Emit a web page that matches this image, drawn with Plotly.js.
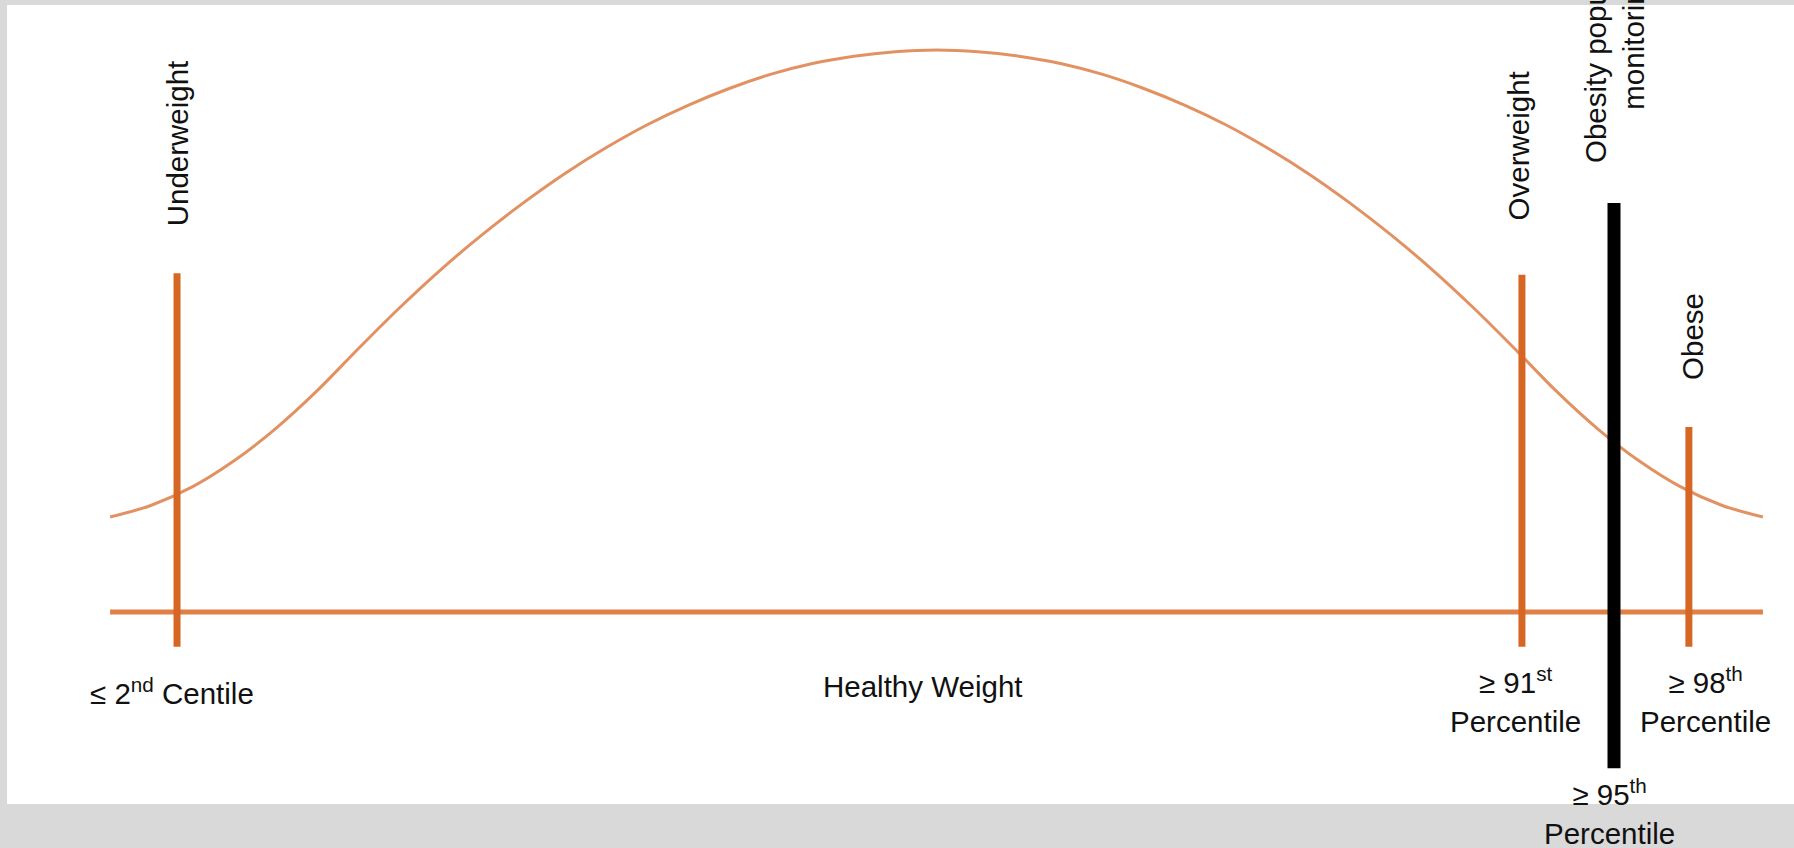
<!DOCTYPE html>
<html>
<head>
<meta charset="utf-8">
<script src="https://cdn.plot.ly/plotly-3.0.1.min.js"></script>
<style>
  html, body { margin: 0; padding: 0; background: #ffffff; }
  #chart { width: 1794px; height: 848px; }
</style>
</head>
<body>
<div id="chart"></div>
<script>
// Distribution curve (position along the scale, relative height)
const curveX = [0, 2.5, 5, 7.5, 10, 12.5, 15, 17.5, 20, 22.5, 25, 27.5, 30, 32.5, 35, 37.5, 40, 42.5, 45, 47.5,
                50, 52.5, 55, 57.5, 60, 62.5, 65, 67.5, 70, 72.5, 75, 77.5, 80, 82.5, 85, 87.5, 90, 92.5, 95, 97.5, 100];
const curveY = [16.9, 19.0, 22.3, 26.9, 32.6, 39.3, 46.8, 54.1, 60.9, 67.1, 72.8, 78.0, 82.6, 86.7, 90.2, 93.2, 95.7, 97.6, 98.9, 99.7,
                100, 99.7, 98.9, 97.6, 95.7, 93.2, 90.2, 86.7, 82.6, 78.0, 72.8, 67.1, 60.9, 54.1, 46.8, 39.3, 32.6, 26.9, 22.3, 19.0, 16.9];

// Baseline
const baseX = [0, 100];
const baseY = [0, 0];

// Cut-off markers
const markerNames  = ["Underweight", "Overweight", "Obese"];
const markerX      = [4.05, 85.42, 95.52];
const markerTop    = [60.3, 60.0, 32.9];
const markerBottom = [-6.2, -6.2, -6.2];

// Monitoring cut-off (black bar)
const monitorX = 90.99;
const monitorTop = 72.8;
const monitorBottom = -27.8;

// Rotated category labels
const catLabels = ["Underweight", "Overweight", "Obese", "Obesity population<br>monitoring"];
const catLabelX = [4.05, 85.2, 95.7, 90.99];
const catLabelY = [83.4, 82.9, 49.1, 101.6];

// Bottom threshold labels
const cutLabels = ["≤ 2<sup>nd</sup> Centile", "Healthy Weight", "≥ 91<sup>st</sup><br>Percentile",
                   "≥ 98<sup>th</sup><br>Percentile", "≥ 95<sup>th</sup><br>Percentile"];
const cutLabelX = [3.75, 49.2, 85.06, 96.55, 90.74];
const cutLabelY = [-14.2, -13.3, -15.6, -15.6, -35.5];

const ORANGE = "rgb(214,102,36)";
const CURVE = "rgb(226,146,98)";
const FONT = "'Liberation Sans', Arial, Helvetica, sans-serif";

const traces = [];
traces.push({
  x: baseX, y: baseY, mode: "lines", type: "scatter",
  line: { color: "rgb(224,128,70)", width: 5 }, hoverinfo: "skip", showlegend: false
});
traces.push({
  x: curveX, y: curveY, mode: "lines", type: "scatter",
  line: { color: CURVE, width: 3, shape: "spline", smoothing: 1.0 }, hoverinfo: "skip", showlegend: false
});
markerNames.forEach((n, i) => {
  traces.push({
    x: [markerX[i], markerX[i]], y: [markerBottom[i], markerTop[i]], mode: "lines", type: "scatter",
    name: n, line: { color: ORANGE, width: 7 }, hoverinfo: "skip", showlegend: false
  });
});
traces.push({
  x: [monitorX, monitorX], y: [monitorBottom, monitorTop], mode: "lines", type: "scatter",
  line: { color: "#000000", width: 13 }, hoverinfo: "skip", showlegend: false
});

const annotations = [];
catLabels.forEach((t, i) => {
  annotations.push({
    x: catLabelX[i], y: catLabelY[i], xref: "x", yref: "y", text: t, showarrow: false,
    textangle: -90, xanchor: "center", yanchor: "middle", align: "center",
    font: { family: FONT, size: 29.5, color: "#111111" }
  });
});
cutLabels.forEach((t, i) => {
  annotations.push({
    x: cutLabelX[i], y: cutLabelY[i], xref: "x", yref: "y", text: t, showarrow: false,
    xanchor: "center", yanchor: "middle", align: "center",
    font: { family: FONT, size: 29.5, color: "#111111" }
  });
});

const GRAY = "#d9d9d9";
const shapes = [
  { type: "rect", xref: "paper", yref: "paper", x0: 0, x1: 1, y0: 1 - 5/848, y1: 1.01, fillcolor: GRAY, line: { width: 0 }, layer: "below" },
  { type: "rect", xref: "paper", yref: "paper", x0: -0.01, x1: 7/1794, y0: 0, y1: 1, fillcolor: GRAY, line: { width: 0 }, layer: "below" },
  { type: "rect", xref: "paper", yref: "paper", x0: 0, x1: 1, y0: -0.01, y1: 44/848, fillcolor: GRAY, line: { width: 0 }, layer: "below" }
];

const layout = {
  width: 1794, height: 848,
  margin: { l: 0, r: 0, t: 0, b: 0, pad: 0 },
  paper_bgcolor: "#ffffff", plot_bgcolor: "rgba(0,0,0,0)",
  xaxis: { range: [-6.66, 101.88], visible: false, fixedrange: true },
  yaxis: { range: [-41.99, 108.90], visible: false, fixedrange: true },
  showlegend: false,
  annotations: annotations,
  shapes: shapes,
  font: { family: FONT }
};

Plotly.newPlot("chart", traces, layout, { displayModeBar: false, staticPlot: true });
</script>
</body>
</html>
